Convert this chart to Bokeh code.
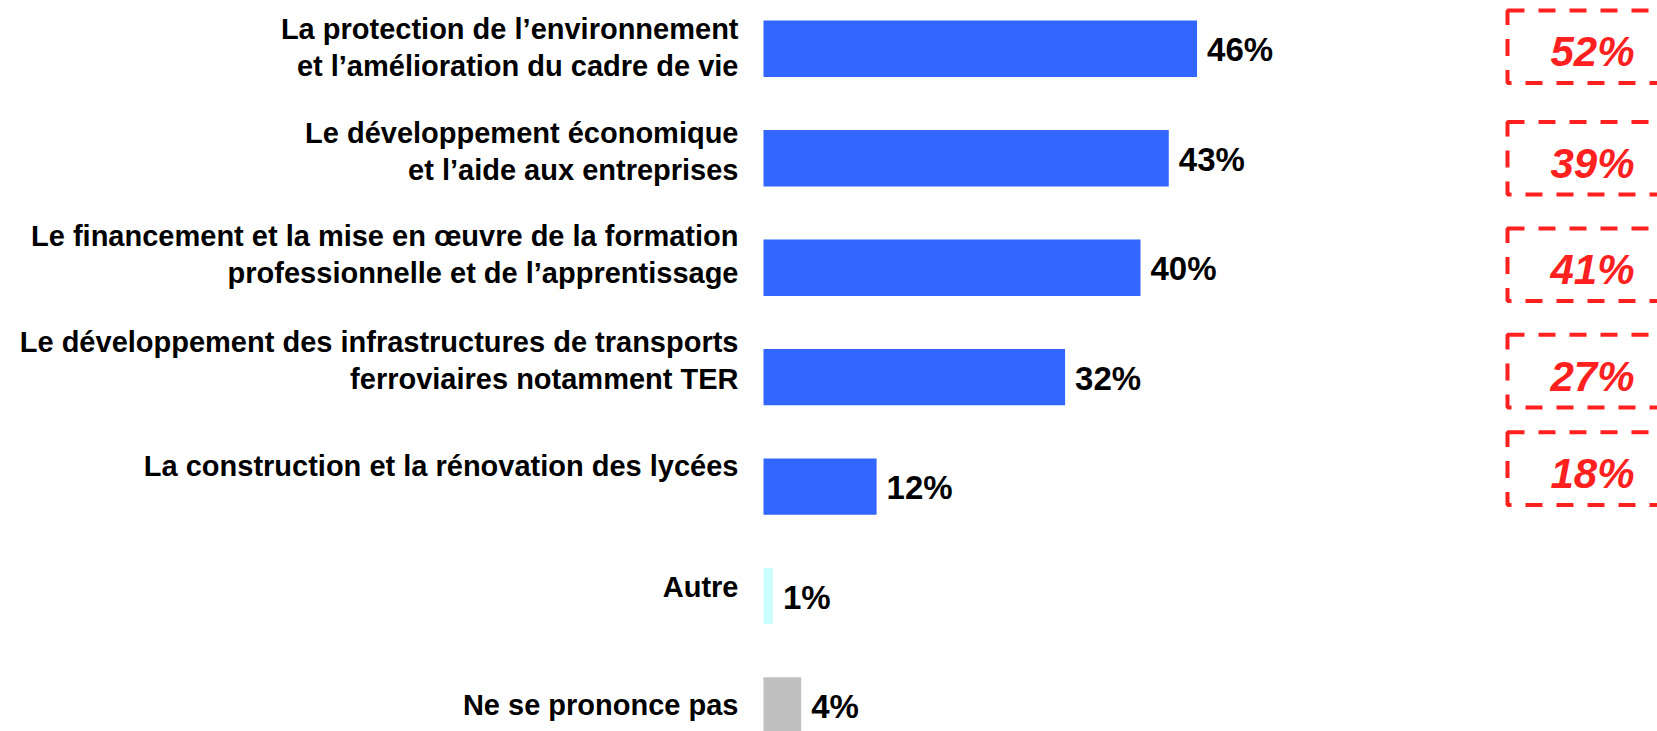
from bokeh.plotting import figure
from bokeh.models import Range1d, ColumnDataSource
from bokeh.core.properties import value
from bokeh.embed import file_html
from bokeh.resources import INLINE

# ---- data ----
categories = [
    "La protection de l\u2019environnement\net l\u2019am\u00e9lioration du cadre de vie",
    "Le d\u00e9veloppement \u00e9conomique\net l\u2019aide aux entreprises",
    "Le financement et la mise en \u0153uvre de la formation\nprofessionnelle et de l\u2019apprentissage",
    "Le d\u00e9veloppement des infrastructures de transports\nferroviaires notamment TER",
    "La construction et la r\u00e9novation des lyc\u00e9es",
    "Autre",
    "Ne se prononce pas",
]
values = [46, 43, 40, 32, 12, 1, 4]
value_labels = ["46%", "43%", "40%", "32%", "12%", "1%", "4%"]
previous_values = [52, 39, 41, 27, 18]
previous_labels = ["52%", "39%", "41%", "27%", "18%"]

# ---- styles ----
bar_colors = ["#3366FF"] * 5 + ["#CCFFFF", "#C0C0C0"]
label_shift_px = [-1, -7, -13, -17, -21, -9, -1]
box_shift_px = [-2, 0, -3, -6, -18]
RED = "#FF2020"
FONT = "Liberation Sans"

W, H = 1657, 731
px_per_x = 9.425
px_per_y = 109.45
x0 = -763 / px_per_x
y_top = -48.3 / px_per_y

p = figure(width=W, height=H, output_backend="svg", toolbar_location=None,
           x_axis_type=None, y_axis_type=None, min_border=0,
           x_range=Range1d(x0, x0 + W / px_per_x),
           y_range=Range1d(y_top + H / px_per_y, y_top))
p.outline_line_color = None
p.grid.visible = False
p.background_fill_color = "white"
p.border_fill_color = "white"

n = len(categories)
ys = list(range(n))
src = ColumnDataSource(dict(y=ys, v=values, lab=value_labels, cat=categories,
                            color=bar_colors, lshift=label_shift_px))

p.hbar(y="y", left=0, right="v", height=0.515, color="color", line_color=None, source=src)

p.text(x="v", y="y", text="lab", source=src, x_offset=10, y_offset=1,
       text_font=value(FONT), text_font_style="bold", text_font_size="33px",
       text_align="left", text_baseline="middle", text_color="black")

p.text(x=0, y="y", text="cat", source=src, x_offset=-25, y_offset="lshift",
       text_font=value(FONT), text_font_style="bold", text_font_size="29px",
       text_align="right", text_baseline="middle", text_color="black",
       text_line_height=1.15)

# previous-wave boxes (right side runs off the page, as in the original)
m = len(previous_values)
box_y = [ys[i] + box_shift_px[i] / px_per_y for i in range(m)]
box_left = (1507 - 763) / px_per_x
box_w = 167.2 / px_per_x
box_half = 36.3 / px_per_y
bsrc = ColumnDataSource(dict(y=box_y, top=[b - box_half for b in box_y],
                             bottom=[b + box_half for b in box_y],
                             lab=previous_labels))
p.quad(left=box_left, right=box_left + box_w, top="top", bottom="bottom", source=bsrc,
       fill_color=None, line_color=RED, line_width=4, line_dash="17 14")
p.text(x=(1592 - 763) / px_per_x, y="y", text="lab", source=bsrc, y_offset=5,
       text_font=value(FONT), text_font_style="bold italic", text_font_size="42px",
       text_align="center", text_baseline="middle", text_color=RED)

open("out.html", "w").write(file_html(p, INLINE))
